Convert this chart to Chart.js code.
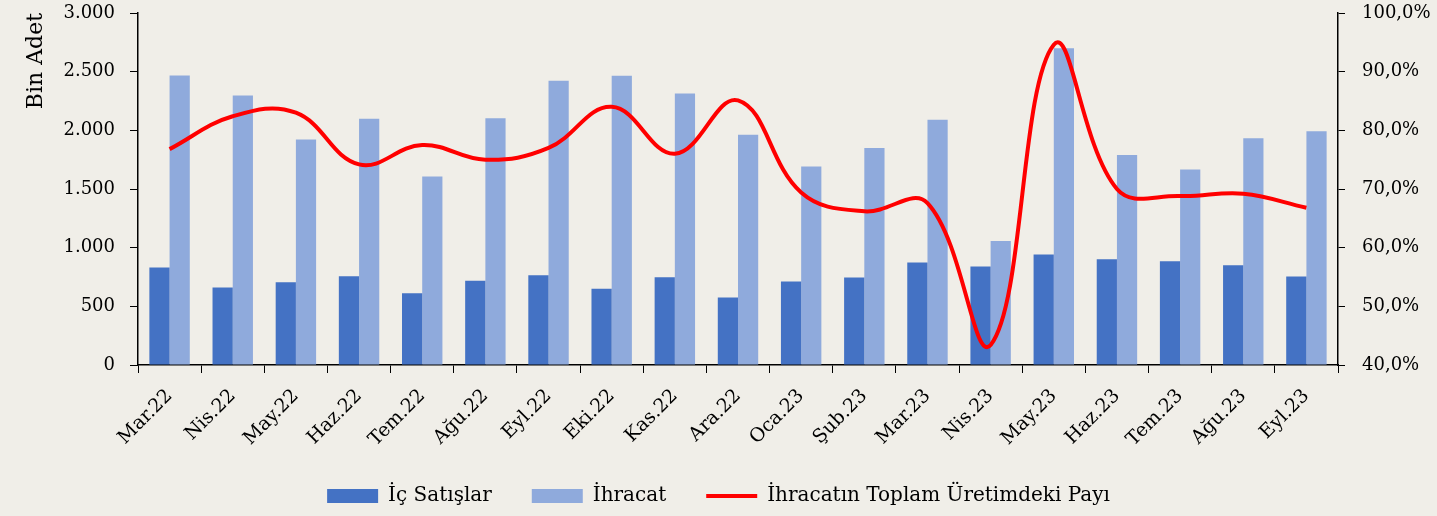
<!DOCTYPE html>
<html>
<head>
<meta charset="utf-8">
<script src="https://cdn.jsdelivr.net/npm/chart.js@4/dist/chart.umd.min.js"></script>
<style>
  body { margin: 0; background: #f0eee8; }
  #wrap { width: 1437px; height: 516px; position: relative; }
</style>
</head>
<body>
<div id="wrap"><canvas id="chartProd"></canvas></div>
<script>
let months = ['Mar.22', 'Nis.22', 'May.22', 'Haz.22', 'Tem.22', 'Ağu.22', 'Eyl.22', 'Eki.22', 'Kas.22', 'Ara.22',
	'Oca.23', 'Şub.23', 'Mar.23', 'Nis.23', 'May.23', 'Haz.23', 'Tem.23', 'Ağu.23', 'Eyl.23'];

// bin adet
let icSatis = [830, 660, 705, 756, 612, 717, 765, 649, 748, 575, 711, 745, 873, 839, 941, 901, 884, 850, 754];
let ihracat = [2467, 2297, 1921, 2099, 1606, 2102, 2422, 2465, 2314, 1963, 1691, 1850, 2091, 1057, 2700, 1790, 1666, 1932, 1992];

// yüzde
let ihracatPayi = [76.8, 82.4, 83.0, 74.2, 77.5, 75.0, 77.0, 84.0, 76.0, 85.1, 69.4, 66.2, 67.6, 43.4, 94.6, 70.0, 68.8, 69.2, 66.8];

let leftTicks = [0, 500, 1000, 1500, 2000, 2500, 3000];
let rightTicks = [40, 50, 60, 70, 80, 90, 100];

const fontName = "'DejaVu Serif', serif";

let fmtThousands = function (v) {
	return String(v).replace(/\B(?=(\d{3})+(?!\d))/g, '.');
};

// keep the plot area where the reference has it
let fixVertical = function (width) {
	return function (scale) {
		scale.width = width;
		scale.paddingTop = 13;
		scale.paddingBottom = 0;
	};
};

let ctx = document.getElementById('chartProd').getContext('2d');

let chart = new Chart(ctx, {
	type: 'bar',
	data: {
		labels: months,
		datasets: [
			{
				label: 'İç Satışlar',
				data: icSatis,
				backgroundColor: '#4472c4',
				borderWidth: 0,
				yAxisID: 'y',
				order: 1,
				pointStyle: 'rect',
			},
			{
				label: 'İhracat',
				data: ihracat,
				backgroundColor: '#8faadc',
				borderWidth: 0,
				yAxisID: 'y',
				order: 1,
				pointStyle: 'rect',
			},
			{
				type: 'line',
				label: 'İhracatın Toplam Üretimdeki Payı',
				data: ihracatPayi,
				borderColor: '#ff0000',
				backgroundColor: '#ff0000',
				borderWidth: 4,
				pointRadius: 0,
				tension: 0.4,
				yAxisID: 'y1',
				order: 0,
				pointStyle: 'line',
			},
		],
	},
	options: {
		responsive: true,
		maintainAspectRatio: false,
		animation: false,
		datasets: {
			bar: { categoryPercentage: 0.64, barPercentage: 1 },
		},
		layout: { padding: { top: 0, left: 0, right: 0, bottom: 0 } },
		plugins: {
			tooltip: { enabled: false },
			legend: {
				position: 'bottom',
				labels: {
					usePointStyle: true,
					pointStyleWidth: 51,
					boxHeight: 14,
					padding: 40,
					color: '#000',
					font: { family: fontName, size: 20 },
					sort: function (a, b) { return a.datasetIndex - b.datasetIndex; },
				},
			},
		},
		scales: {
			x: {
				offset: true,
				afterFit: function (scale) { scale.height = 81; },
				grid: { display: true, drawOnChartArea: false, drawTicks: true, tickLength: 8, color: '#000', offset: true },
				border: { display: true, color: '#000', width: 1.5 },
				ticks: {
					autoSkip: false,
					maxRotation: 45,
					minRotation: 45,
					padding: 12,
					color: '#000',
					font: { family: fontName, size: 19 },
				},
			},
			y: {
				position: 'left',
				min: 0,
				max: 3000,
				afterFit: fixVertical(138),
				afterBuildTicks: function (scale) { scale.ticks = leftTicks.map(v => ({ value: v })); },
				grid: { display: true, drawOnChartArea: false, tickLength: 8, color: '#000' },
				border: { display: true, color: '#000', width: 1.5 },
				title: {
					display: true,
					text: 'Bin Adet',
					align: 'end',
					color: '#000',
					font: { family: fontName, size: 22 },
					padding: { top: 23, bottom: 0 },
				},
				ticks: {
					padding: 15,
					color: '#000',
					font: { family: fontName, size: 18 },
					callback: function (v) { return fmtThousands(v); },
				},
			},
			y1: {
				position: 'right',
				min: 40,
				max: 100,
				afterFit: fixVertical(99),
				afterBuildTicks: function (scale) { scale.ticks = rightTicks.map(v => ({ value: v })); },
				grid: { display: true, drawOnChartArea: false, tickLength: 7, color: '#000' },
				border: { display: true, color: '#000', width: 1.5 },
				ticks: {
					padding: 17,
					color: '#000',
					font: { family: fontName, size: 18 },
					callback: function (v) { return v.toFixed(1).replace('.', ',') + '%'; },
				},
			},
		},
	},
});
</script>
</body>
</html>
